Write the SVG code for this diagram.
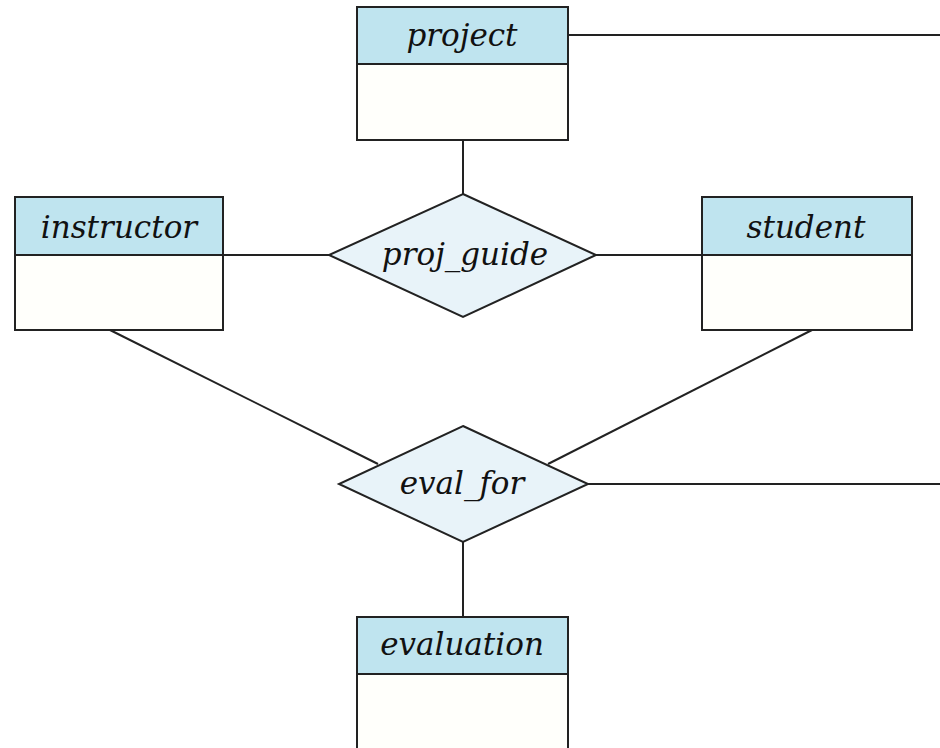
<svg xmlns="http://www.w3.org/2000/svg" width="940" height="748" viewBox="0 0 940 748">
<style>
.hdr{fill:#bfe4ef;stroke:#222;stroke-width:2}
.body{fill:#fffffb;stroke:#222;stroke-width:2}
.rel{fill:#e8f3f9;stroke:#222;stroke-width:2}
.ln{stroke:#222;stroke-width:2;fill:none}
.t{font-family:"DejaVu Serif","Liberation Serif",serif;font-style:italic;font-size:31px;fill:#111;text-anchor:middle}
</style>
<rect width="940" height="748" fill="#fff"/>
<g id="connectors">
<line class="ln" x1="568" y1="35" x2="940" y2="35"/>
<line class="ln" x1="463" y1="140" x2="463" y2="194"/>
<line class="ln" x1="223" y1="255" x2="329" y2="255"/>
<line class="ln" x1="596" y1="255" x2="702" y2="255"/>
<line class="ln" x1="110" y1="330" x2="378" y2="464"/>
<line class="ln" x1="812" y1="330" x2="548" y2="464"/>
<line class="ln" x1="588" y1="484" x2="940" y2="484"/>
<line class="ln" x1="463" y1="542" x2="463" y2="617"/>
</g>
<g id="project">
<rect class="body" x="357" y="7" width="211" height="133"/>
<rect class="hdr" x="357" y="7" width="211" height="57"/>
<text class="t" x="462" y="46">project</text>
</g>
<g id="instructor">
<rect class="body" x="15" y="197" width="208" height="133"/>
<rect class="hdr" x="15" y="197" width="208" height="58"/>
<text class="t" x="119" y="238">instructor</text>
</g>
<g id="student">
<rect class="body" x="702" y="197" width="210" height="133"/>
<rect class="hdr" x="702" y="197" width="210" height="58"/>
<text class="t" x="806" y="238">student</text>
</g>
<g id="proj_guide">
<polygon class="rel" points="463,194 596,255 463,317 329,255"/>
<text class="t" x="465" y="265">proj_guide</text>
</g>
<g id="eval_for">
<polygon class="rel" points="463,426 588,484 463,542 339,484"/>
<text class="t" x="462" y="494">eval_for</text>
</g>
<g id="evaluation">
<rect class="body" x="357" y="617" width="211" height="140"/>
<rect class="hdr" x="357" y="617" width="211" height="57"/>
<text class="t" x="462" y="655">evaluation</text>
</g>
</svg>
